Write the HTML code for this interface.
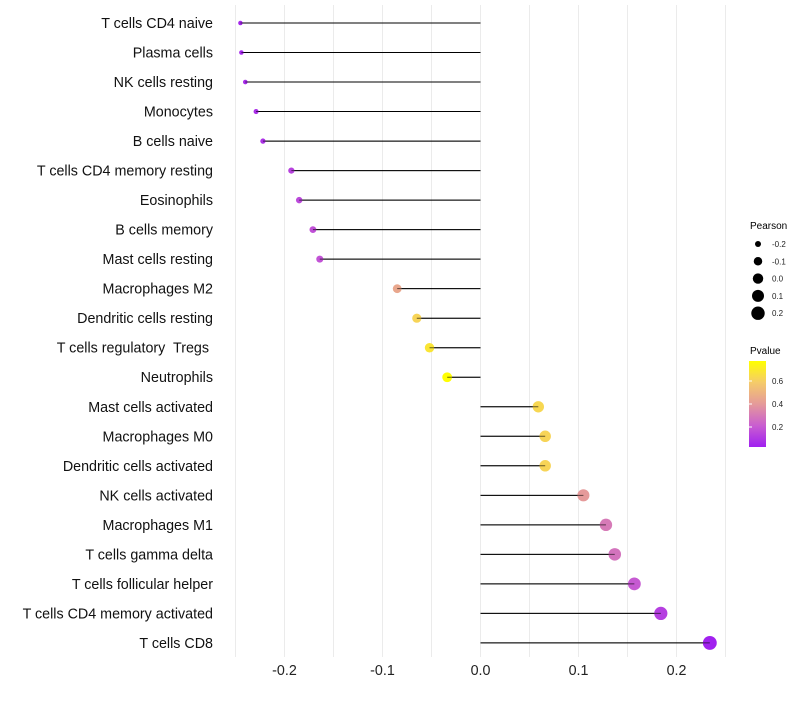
<!DOCTYPE html>
<html><head><meta charset="utf-8"><style>
body{margin:0;background:#fff;font-family:"Liberation Sans",sans-serif}
svg text{font-family:"Liberation Sans",sans-serif;white-space:pre}
</style></head><body>
<svg id="chart" width="800" height="700">
<g id="grid"></g>
<g id="marks"></g>
<g id="ylabels"></g>
<g id="xlabels"></g>
<g id="legend">
<text x="750" y="229" font-size="10">Pearson</text>
<text x="750" y="354" font-size="10">Pvalue</text>
<defs><linearGradient id="pg" x1="0" y1="1" x2="0" y2="0">
<stop offset="0" stop-color="#a020f0"/><stop offset="0.25" stop-color="#c95ed0"/><stop offset="0.5" stop-color="#e59a9a"/><stop offset="0.75" stop-color="#f5cb6a"/><stop offset="1" stop-color="#ffff00"/></linearGradient></defs>
<rect x="749" y="361" width="17" height="86" fill="url(#pg)"/>
</g>
</svg>
<script>
const categories=["T cells CD4 naive","Plasma cells","NK cells resting","Monocytes","B cells naive","T cells CD4 memory resting","Eosinophils","B cells memory","Mast cells resting","Macrophages M2","Dendritic cells resting","T cells regulatory  Tregs ","Neutrophils","Mast cells activated","Macrophages M0","Dendritic cells activated","NK cells activated","Macrophages M1","T cells gamma delta","T cells follicular helper","T cells CD4 memory activated","T cells CD8"];
const pearson=[-0.245,-0.244,-0.240,-0.229,-0.222,-0.193,-0.185,-0.171,-0.164,-0.085,-0.065,-0.052,-0.034,0.059,0.066,0.066,0.105,0.128,0.137,0.157,0.184,0.234];
const pvalue=[0.05,0.05,0.06,0.07,0.08,0.13,0.15,0.17,0.18,0.45,0.62,0.68,0.77,0.63,0.62,0.62,0.40,0.30,0.28,0.20,0.12,0.03];
const xTicks=[-0.2,-0.1,0.0,0.1,0.2];
const xTickLabels=["-0.2","-0.1","0.0","0.1","0.2"];
const sizeLegend=[-0.2,-0.1,0.0,0.1,0.2];
const colorTicks=[0.2,0.4,0.6];
const NS="http://www.w3.org/2000/svg";
const X=v=>480.5+v*980;
const Y=i=>23+i*29.52;
const R=v=>Math.sqrt(Math.max(0.003,(v+0.3)))*9.5;
const PMIN=0.026,PMAX=0.774;
const stops=[[0,[160,32,240]],[0.25,[201,94,208]],[0.5,[229,154,154]],[0.75,[245,203,106]],[1,[255,255,0]]];
function col(p){let t=Math.min(1,Math.max(0,(p-PMIN)/(PMAX-PMIN)));for(let i=1;i<stops.length;i++){if(t<=stops[i][0]){const a=stops[i-1],b=stops[i],f=(t-a[0])/(b[0]-a[0]);return 'rgb('+a[1].map((c,k)=>Math.round(c+(b[1][k]-c)*f)).join(',')+')';}}return 'rgb(255,255,0)';}
function mk(tag,attrs,parent){const e=document.createElementNS(NS,tag);for(const k in attrs)e.setAttribute(k,attrs[k]);parent.appendChild(e);return e;}
const grid=document.getElementById('grid'),marks=document.getElementById('marks'),yl=document.getElementById('ylabels'),xl=document.getElementById('xlabels'),lg=document.getElementById('legend');
for(let v=-0.25;v<=0.2501;v+=0.05){const g=mk('line',{x1:X(v),x2:X(v),y1:5,y2:657,stroke:'#ebebeb','stroke-width':1},grid);

}
xTicks.forEach((v,i)=>{const t=mk('text',{x:X(v),y:675,'font-size':14.3,'text-anchor':'middle',fill:'#222'},xl);t.textContent=xTickLabels[i];

});
categories.forEach((c,i)=>{const y=Y(i);
const t=mk('text',{x:213,y:y+5,'font-size':14.3,'text-anchor':'end',fill:'#111'},yl);t.textContent=c;


const l=mk('line',{x1:X(0),x2:X(pearson[i]),y1:y,y2:y,stroke:'#000','stroke-width':1},marks);


const d=mk('circle',{cx:X(pearson[i]),cy:y,r:R(pearson[i]),fill:col(pvalue[i])},marks);


const l2=mk('line',{x1:X(0),x2:X(pearson[i]),y1:y,y2:y,stroke:'#000','stroke-width':1,'stroke-opacity':0.6},marks);

});
sizeLegend.forEach((v,i)=>{const y=244+i*17.3;
const c=mk('circle',{cx:758,cy:y,r:R(v),fill:'#000'},lg);


const t=mk('text',{x:772,y:y+3,'font-size':8,fill:'#222'},lg);t.textContent=v.toFixed(1);

});
colorTicks.forEach(p=>{const y=447-(p-PMIN)/(PMAX-PMIN)*86;
const t=mk('text',{x:772,y:y+3,'font-size':8,fill:'#222'},lg);t.textContent=p.toFixed(1);


const k=mk('line',{x1:749,x2:752,y1:y,y2:y,stroke:'#fff'},lg);

});
</script>
</body></html>
